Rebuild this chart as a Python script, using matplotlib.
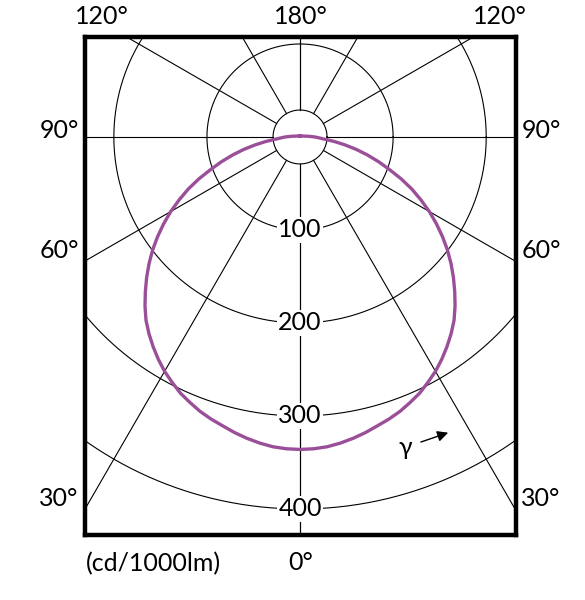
import numpy as np
import matplotlib.pyplot as plt

plt.rcParams['font.family'] = ['Lato', 'DejaVu Sans']

# luminous intensity (cd/1000lm) against gamma angle, C0/C180 plane mirrored
gamma = [0, 2.5, 5, 7.5, 10, 12.5, 15, 17.5, 20, 22.5, 25, 27.5, 30, 32.5, 35,
         37.5, 40, 42.5, 45, 47.5, 50, 52.5, 55, 57.5, 60, 62.5, 65, 67.5, 70,
         72.5, 75, 77.5, 80, 82.5, 85, 87.5, 90, 95, 100, 110, 120, 135, 150,
         165, 180]
intensity = [336, 335.6, 334.4, 332, 329, 325.5, 321.5, 318, 314, 309, 304,
             297.5, 291, 283.4, 275.2, 266.6, 257.4, 246.5, 235, 223.5, 211.7,
             199.6, 186.8, 173.7, 160.4, 146.3, 132.5, 117.5, 102, 88.5, 75, 62,
             49, 37, 26, 20, 16, 9, 5, 3, 2, 1.5, 1, 1, 1]

rings = [100, 200, 300, 400]
ring_labels = ['100', '200', '300', '400']
spokes = [0, 30, 60, 90, 120, 150, 180]
inner_r = 29

W, H = 585, 600
fig = plt.figure(figsize=(W / 100, H / 100), dpi=100)
ax = fig.add_axes([85 / W, 1 - 535 / H, 431 / W, 498 / H])
ax.set_xlim(-231, 232)
ax.set_ylim(-428, 107.5)
ax.set_xticks([])
ax.set_yticks([])
for s in ax.spines.values():
    s.set_linewidth(3.2)
    s.set_color('black')
    s.set_zorder(10)

# grid circles
t = np.linspace(0, 2 * np.pi, 721)
for r in [inner_r] + rings:
    ax.plot(r * np.cos(t), r * np.sin(t), color='black', lw=0.8)

# spokes, starting at the inner circle
for g in spokes:
    a = np.radians(g)
    for sgn in (1, -1):
        ax.plot([sgn * inner_r * np.sin(a), sgn * 700 * np.sin(a)],
                [-inner_r * np.cos(a), -700 * np.cos(a)], color='black', lw=0.8)

# ring labels
for r, lab in zip(rings, ring_labels):
    ax.text(0, -r, lab, ha='center', va='center', fontsize=18,
            bbox=dict(facecolor='white', edgecolor='none', pad=1.0), zorder=5)

# light distribution curve
g = np.radians(np.array(gamma))
I = np.array(intensity)
xs = np.concatenate([-I[::-1] * np.sin(g[::-1]), I[1:] * np.sin(g[1:])])
ys = np.concatenate([-I[::-1] * np.cos(g[::-1]), -I[1:] * np.cos(g[1:])])
ax.plot(xs, ys, color='#9a4f98', lw=2.4, zorder=4, solid_joinstyle='round')

# gamma arrow
ax.text(113, -334, 'γ', ha='center', va='center', fontsize=18)
ax.annotate('', xy=(162, -317), xytext=(127, -329),
            arrowprops=dict(arrowstyle='-|>', color='black', lw=1.0,
                            mutation_scale=16))

def ftext(x, y, s, ha='center'):
    fig.text(x / W, 1 - y / H, s, ha=ha, va='center', fontsize=18)

ftext(102, 17, '120°')
ftext(301, 17, '180°')
ftext(500, 17, '120°')
for lab, y in [('90°', 131), ('60°', 251), ('30°', 498)]:
    ftext(59, y, lab)
    ftext(541, y, lab)
ftext(301, 562, '0°')
ftext(86, 564, '(cd/1000lm)', ha='left')

fig.savefig('out.png', dpi=100, facecolor='white')
